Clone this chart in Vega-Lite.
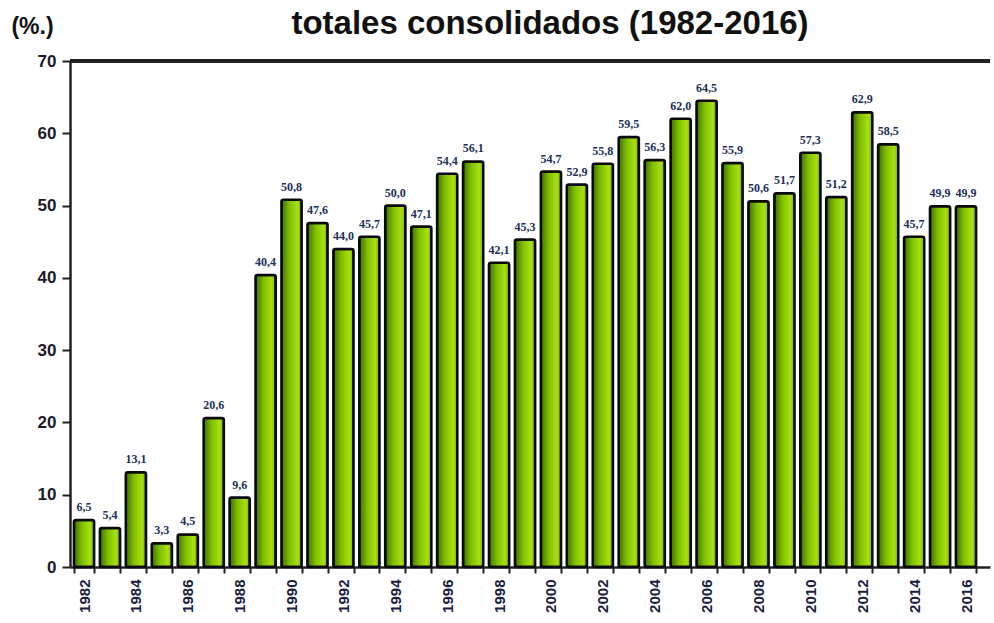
{
  "$schema": "https://vega.github.io/schema/vega-lite/v6.json",
  "autosize": {"type": "none"},
  "width": 920,
  "height": 506,
  "padding": {"left": 70, "top": 61, "right": 4, "bottom": 56},
  "background": "white",
  "config": {
    "view": {"stroke": null},
    "locale": {"number": {"decimal": ",", "thousands": ".", "grouping": [3], "currency": ["", " €"]}}
  },
  "title": {
    "text": "totales consolidados (1982-2016)",
    "font": "Liberation Sans",
    "fontSize": 33,
    "fontWeight": "bold",
    "color": "#111111",
    "anchor": "middle",
    "dx": 20,
    "offset": -26
  },
  "data": {
    "values": [
      {"year": "1982", "value": 6.5},
      {"year": "1983", "value": 5.4},
      {"year": "1984", "value": 13.1},
      {"year": "1985", "value": 3.3},
      {"year": "1986", "value": 4.5},
      {"year": "1987", "value": 20.6},
      {"year": "1988", "value": 9.6},
      {"year": "1989", "value": 40.4},
      {"year": "1990", "value": 50.8},
      {"year": "1991", "value": 47.6},
      {"year": "1992", "value": 44.0},
      {"year": "1993", "value": 45.7},
      {"year": "1994", "value": 50.0},
      {"year": "1995", "value": 47.1},
      {"year": "1996", "value": 54.4},
      {"year": "1997", "value": 56.1},
      {"year": "1998", "value": 42.1},
      {"year": "1999", "value": 45.3},
      {"year": "2000", "value": 54.7},
      {"year": "2001", "value": 52.9},
      {"year": "2002", "value": 55.8},
      {"year": "2003", "value": 59.5},
      {"year": "2004", "value": 56.3},
      {"year": "2005", "value": 62.0},
      {"year": "2006", "value": 64.5},
      {"year": "2007", "value": 55.9},
      {"year": "2008", "value": 50.6},
      {"year": "2009", "value": 51.7},
      {"year": "2010", "value": 57.3},
      {"year": "2011", "value": 51.2},
      {"year": "2012", "value": 62.9},
      {"year": "2013", "value": 58.5},
      {"year": "2014", "value": 45.7},
      {"year": "2015", "value": 49.9},
      {"year": "2016", "value": 49.9}
    ]
  },
  "encoding": {
    "x": {
      "field": "year",
      "type": "ordinal",
      "scale": {"paddingInner": 0.22, "paddingOuter": 0.343, "align": 0.22},
      "axis": {
        "title": null,
        "labelAngle": 270,
        "labelAlign": "right",
        "labelBaseline": "middle",
        "labelFont": "Liberation Sans",
        "labelFontSize": 15,
        "labelFontWeight": "bold",
        "labelColor": "#1a2040",
        "labelPadding": 6,
        "labelExpr": "toNumber(datum.value) % 2 == 0 ? datum.value : ''",
        "tickBand": "extent",
        "tickSize": 6,
        "tickWidth": 2,
        "tickColor": "#222222",
        "domainColor": "#222222",
        "domainWidth": 2.5
      }
    },
    "y": {
      "field": "value",
      "type": "quantitative",
      "scale": {"domain": [0, 70], "nice": false},
      "axis": {
        "title": "(%.)",
        "titleAngle": 0,
        "titleX": -38,
        "titleY": -35,
        "titleAlign": "center",
        "titleBaseline": "middle",
        "titleFont": "Liberation Sans",
        "titleFontSize": 23,
        "titleFontWeight": "bold",
        "titleColor": "#111111",
        "values": [0, 10, 20, 30, 40, 50, 60, 70],
        "labelFont": "Liberation Sans",
        "labelFontSize": 17,
        "labelFontWeight": "bold",
        "labelColor": "#1a1a2a",
        "labelPadding": 6,
        "tickSize": 8,
        "tickWidth": 2,
        "tickColor": "#222222",
        "domainColor": "#222222",
        "domainWidth": 2.5,
        "grid": false
      }
    }
  },
  "layer": [
    {
      "mark": {
        "type": "bar",
        "stroke": "#0a0a0a",
        "strokeWidth": 2.5,
        "cornerRadius": 2,
        "color": {
          "gradient": "linear",
          "x1": 0, "x2": 1, "y1": 0, "y2": 0,
          "stops": [
            {"offset": 0, "color": "#3f6e00"},
            {"offset": 0.4, "color": "#80c000"},
            {"offset": 0.8, "color": "#a8e010"},
            {"offset": 1, "color": "#7aaa00"}
          ]
        }
      }
    },
    {
      "mark": {
        "type": "text",
        "baseline": "bottom",
        "dy": -6,
        "font": "Liberation Serif",
        "fontSize": 12,
        "fontWeight": "bold",
        "color": "#20305a"
      },
      "encoding": {
        "text": {"field": "value", "type": "quantitative", "format": ".1f"}
      }
    },
    {
      "mark": {"type": "rule", "color": "#222222", "strokeWidth": 2.5},
      "encoding": {"y": {"datum": 70}, "x": null}
    }
  ]
}
